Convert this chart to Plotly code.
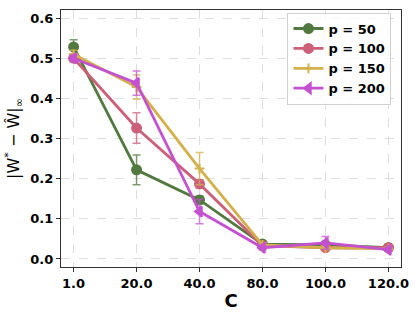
import plotly.graph_objects as go

C_labels = ["1.0", "20.0", "40.0", "80.0", "100.0", "120.0"]

p50 = [0.528, 0.222, 0.147, 0.037, 0.035, 0.028]
p50_err = [0.018, 0.037, 0.010, 0.005, 0.005, 0.004]
p100 = [0.500, 0.326, 0.187, 0.033, 0.028, 0.028]
p100_err = [0.008, 0.038, 0.010, 0.005, 0.005, 0.004]
p150 = [0.510, 0.428, 0.225, 0.035, 0.028, 0.025]
p150_err = [0.010, 0.030, 0.040, 0.005, 0.005, 0.004]
p200 = [0.500, 0.438, 0.118, 0.028, 0.040, 0.023]
p200_err = [0.008, 0.030, 0.030, 0.005, 0.016, 0.004]

series = [
    ("p = 50", p50, p50_err, "#527a40", "circle", 9),
    ("p = 100", p100, p100_err, "#cc6079", "circle", 9),
    ("p = 150", p150, p150_err, "#d4b04c", "cross-thin", 7),
    ("p = 200", p200, p200_err, "#c452d0", "triangle-left", 9),
]

def rgba(h, a):
    h = h.lstrip("#")
    return "rgba(%d,%d,%d,%.2f)" % (int(h[0:2], 16), int(h[2:4], 16), int(h[4:6], 16), a)

fig = go.Figure()
for name, vals, errs, col, sym, ms in series:
    fig.add_trace(go.Scatter(
        x=C_labels, y=vals, name=name, mode="lines+markers",
        line=dict(color=col, width=2.8),
        marker=dict(color=col, symbol=sym, size=ms,
                    line=dict(color=col, width=2)),
        error_y=dict(type="data", array=errs, visible=True,
                     color=rgba(col, 0.75), thickness=1.5, width=4),
    ))

fig.update_layout(
    width=415, height=312,
    margin=dict(l=61, r=14, t=10, b=45),
    paper_bgcolor="white", plot_bgcolor="white",
    font=dict(family="DejaVu Sans", size=13, color="black"),
    showlegend=True,
    legend=dict(x=0.972, y=0.99, xanchor="right", yanchor="top",
                bgcolor="rgba(255,255,255,0.8)", bordercolor="#d0d0d0",
                borderwidth=1, font=dict(family="DejaVu Sans", size=13, weight="bold"),
                tracegroupgap=0, itemwidth=30),
)
fig.update_xaxes(
    type="category", range=[-0.2, 5.2], automargin=False,
    showline=True, linecolor="#333333", linewidth=1.2, mirror=True,
    ticks="outside", ticklen=4, tickcolor="#333333",
    tickfont=dict(family="DejaVu Sans", size=13, weight="bold"),
    showgrid=True, gridcolor="#dddddd", griddash="dash", gridwidth=1,
    title=dict(text="C", font=dict(family="DejaVu Sans", size=18, weight="bold"), standoff=4),
)
fig.update_yaxes(
    range=[-0.02, 0.62], tickvals=[0, 0.1, 0.2, 0.3, 0.4, 0.5, 0.6], tickformat=".1f",
    automargin=False,
    showline=True, linecolor="#333333", linewidth=1.2, mirror=True,
    ticks="outside", ticklen=4, tickcolor="#333333",
    tickfont=dict(family="DejaVu Sans", size=13, weight="bold"),
    showgrid=True, gridcolor="#dddddd", griddash="dash", gridwidth=1, zeroline=False,
    title=dict(text="|W<sup>*</sup> − Ŵ|<sub>∞</sub>", font=dict(family="DejaVu Sans", size=16), standoff=6),
)

fig.write_html("out.html", config={"displayModeBar": False},
               post_script="document.body.style.margin='0';document.body.style.overflow='hidden';")
